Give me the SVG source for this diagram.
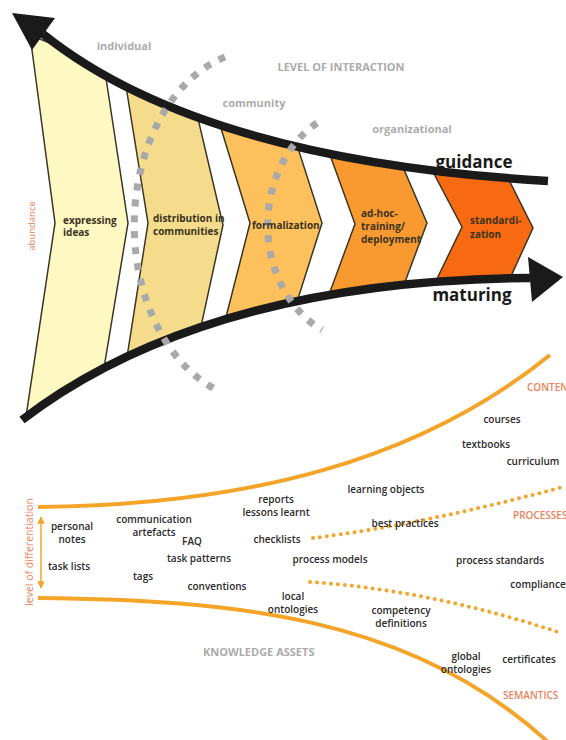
<svg xmlns="http://www.w3.org/2000/svg" width="566" height="740" viewBox="0 0 566 740">
<style>
.chev{stroke:#3a3524;stroke-width:1.5;stroke-linejoin:miter}
.ctext{font-family:"Open Sans","Liberation Sans",sans-serif;font-size:10px;font-weight:700;fill:#3b3320}
.gray{font-family:"Open Sans","Liberation Sans",sans-serif;font-weight:700;fill:#ababab}
.big{font-family:"Open Sans","Liberation Sans",sans-serif;font-size:17px;font-weight:700;fill:#1a1a1a}
.asset{font-family:"Open Sans","Liberation Sans",sans-serif;font-size:10px;font-weight:600;fill:#2b2b2b;text-anchor:middle}
.salmon{font-family:"Open Sans","Liberation Sans",sans-serif;font-size:10px;font-weight:600;fill:#e9825a}
.vlab{font-family:"Open Sans","Liberation Sans",sans-serif;fill:#e9825a;text-anchor:middle}
.blk{fill:none;stroke:#1a1a1a;stroke-width:8.5}
.dash{fill:none;stroke:#a9a9a9;stroke-width:7;stroke-dasharray:7 9}
.orange{fill:none;stroke:#f4a428;stroke-width:4}
.dots{fill:none;stroke:#f4a428;stroke-width:4;stroke-dasharray:0 7;stroke-linecap:round}
</style>
<defs>
<clipPath id="band"><path d="M43,34 Q200,160 548,181 L566,181 L566,278 L530,278 C250,280 100,360 22,420 L0,420 L0,30 Z"/></clipPath>
<marker id="oa" viewBox="0 0 10 10" refX="9" refY="5" markerWidth="5" markerHeight="5" orient="auto-start-reverse"><path d="M0,0 L10,5 L0,10 Z" fill="#f4a428"/></marker>
</defs>
<rect width="566" height="740" fill="#fff"/>

<g id="chevrons" clip-path="url(#band)">
<g id="s1"><polygon class="chev" fill="#fef8c2" points="30,35 104,65 128,223 102,380 24,430 55,223"/></g>
<g id="s2"><polygon class="chev" fill="#f4dc8c" points="125,80 196,110 223,225 197,345 125,370 148,223"/></g>
<g id="s3"><polygon class="chev" fill="#fcc15c" points="220,125 297,145 322,223 296,305 224,325 250,223"/></g>
<g id="s4"><polygon class="chev" fill="#f99a30" points="330,155 402,165 427,223 402,290 327,300 355,224"/></g>
<g id="s5"><polygon class="chev" fill="#f86a12" points="432,170 504,170 533,228 507,285 434,285 462,227"/></g>
</g>

<g id="connectors">
<path id="guidance-curve" class="blk" d="M43,34 Q200,160 548,181"/>
<polygon fill="#1a1a1a" points="12,13 55,18 32,50"/>
<path id="maturing-curve" class="blk" d="M22,420 C100,360 250,280 530,278"/>
<polygon fill="#1a1a1a" points="528,257 563,277 532,302"/>
<path class="dash" d="M225,57 A125 175 0 0 0 217,390"/>
<path class="dash" d="M317,123 A97 117 0 0 0 322,330"/>
<path class="orange" d="M38,507 C250,505 420,460 550,355"/>
<path class="orange" d="M38,598 C230,600 410,615 548,742"/>
<path class="dots" d="M313,538 Q420,525 563,487"/>
<path class="dots" d="M310,582 Q430,590 558,632"/>
<line x1="41" y1="517" x2="41" y2="588" stroke="#f4a428" stroke-width="1.5" marker-start="url(#oa)" marker-end="url(#oa)"/>
</g>

<g id="labels-top">
<text class="gray" x="124" y="50" font-size="11" text-anchor="middle">individual</text>
<text class="gray" x="341" y="71" font-size="11" text-anchor="middle">LEVEL OF INTERACTION</text>
<text class="gray" x="254" y="107" font-size="11" text-anchor="middle">community</text>
<text class="gray" x="412" y="133" font-size="11" text-anchor="middle">organizational</text>
<text class="big" x="474" y="168" text-anchor="middle">guidance</text>
<text class="big" x="472" y="301" text-anchor="middle">maturing</text>
<text class="vlab" font-size="9.5" transform="translate(35,226) rotate(-90)">abundance</text>
</g>

<g id="stage-labels">
<text class="ctext" x="63" y="223.5">expressing</text>
<text class="ctext" x="63" y="236">ideas</text>
<text class="ctext" x="153" y="222">distribution in</text>
<text class="ctext" x="153" y="235">communities</text>
<text class="ctext" x="252" y="229">formalization</text>
<text class="ctext" x="361" y="217">ad-hoc-</text>
<text class="ctext" x="361" y="230">training/</text>
<text class="ctext" x="361" y="243">deployment</text>
<text class="ctext" x="470" y="224">standardi-</text>
<text class="ctext" x="470" y="237.5">zation</text>
</g>

<g id="assets">
<text class="asset" x="72" y="530">personal</text>
<text class="asset" x="72" y="543">notes</text>
<text class="asset" x="69" y="570">task lists</text>
<text class="asset" x="154" y="523">communication</text>
<text class="asset" x="154" y="536">artefacts</text>
<text class="asset" x="192" y="545">FAQ</text>
<text class="asset" x="199" y="562">task patterns</text>
<text class="asset" x="143" y="580">tags</text>
<text class="asset" x="217" y="590">conventions</text>
<text class="asset" x="276" y="503">reports</text>
<text class="asset" x="276" y="516">lessons learnt</text>
<text class="asset" x="277" y="543">checklists</text>
<text class="asset" x="293" y="600">local</text>
<text class="asset" x="293" y="613">ontologies</text>
<text class="asset" x="386" y="493">learning objects</text>
<text class="asset" x="405" y="527">best practices</text>
<text class="asset" x="330" y="563">process models</text>
<text class="asset" x="502" y="423">courses</text>
<text class="asset" x="486" y="448">textbooks</text>
<text class="asset" x="533" y="465">curriculum</text>
<text class="asset" x="500" y="564">process standards</text>
<text class="asset" x="538" y="588">compliance</text>
<text class="asset" x="401" y="614">competency</text>
<text class="asset" x="401" y="627">definitions</text>
<text class="asset" x="466" y="660">global</text>
<text class="asset" x="466" y="673">ontologies</text>
<text class="asset" x="529" y="663">certificates</text>
<text class="salmon" x="527" y="391">CONTENT</text>
<text class="salmon" x="513" y="519">PROCESSES</text>
<text class="salmon" x="503" y="699">SEMANTICS</text>
<text class="gray" x="203" y="656" font-size="11">KNOWLEDGE ASSETS</text>
<text class="vlab" font-size="10.5" transform="translate(33,552) rotate(-90)">level of differentiation</text>
</g>
</svg>
